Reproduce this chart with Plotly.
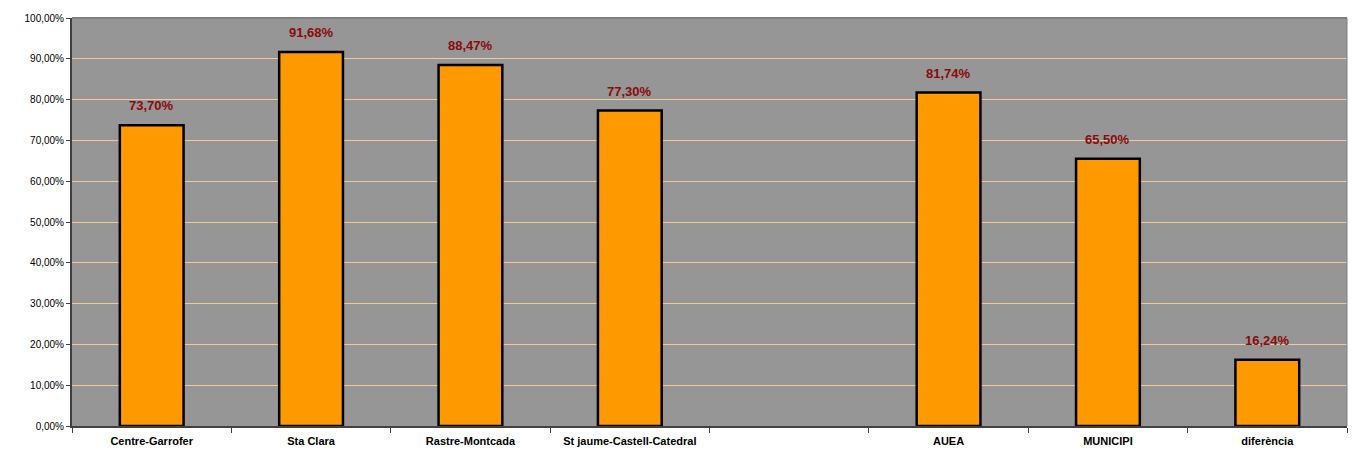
import plotly.graph_objects as go

# Percentages per zone (the blank slot separates zones from totals)
categories = ["Centre-Garrofer", "Sta Clara", "Rastre-Montcada", "St jaume-Castell-Catedral",
              " ", "AUEA", "MUNICIPI", "diferència"]
values = [0.7370, 0.9168, 0.8847, 0.7730, None, 0.8174, 0.6550, 0.1624]
y_ticks = [i / 10 for i in range(11)]


def pct(v):
    return f"{v * 100:.2f}".replace(".", ",") + "%"


fig = go.Figure()
fig.add_trace(go.Bar(
    x=categories,
    y=values,
    width=0.4,
    marker=dict(color="#FF9900", line=dict(color="#000000", width=2.5)),
    hoverinfo="skip",
))

# Value labels floating above each bar
for cat, v in zip(categories, values):
    if v is None:
        continue
    fig.add_annotation(
        x=cat, y=v, text=pct(v), showarrow=False,
        yanchor="bottom", yshift=10,
        font=dict(family="Arial, Liberation Sans", size=13, color="#8B0A0A", weight="bold"),
    )

fig.update_layout(
    width=1358, height=454,
    margin=dict(l=72, r=11, t=18, b=28),
    paper_bgcolor="#FFFFFF",
    plot_bgcolor="#969696",
    separators=",.",
    showlegend=False,
    font=dict(family="Arial, Liberation Sans", color="#000000"),
)

fig.update_xaxes(
    type="category",
    categoryorder="array", categoryarray=categories,
    tickson="boundaries",
    ticks="outside", ticklen=5, tickwidth=1, tickcolor="#404040",
    ticklabelstandoff=4,
    automargin=False,
    showline=True, linecolor="#404040", linewidth=2,
    showgrid=False,
    tickfont=dict(family="Arial, Liberation Sans", size=11, color="#000000", weight="bold"),
)

fig.update_yaxes(
    range=[0, 1],
    tickvals=y_ticks,
    tickformat=".2%",
    ticks="outside", ticklen=4, tickwidth=1, tickcolor="#404040",
    automargin=False,
    showline=True, linecolor="#404040", linewidth=2,
    showgrid=True, gridcolor="#F2C89E", gridwidth=1,
    zeroline=False,
    tickfont=dict(family="Arial, Liberation Sans", size=10, color="#000000"),
)

# Light frame on the top and right edges of the plot area
fig.add_shape(type="line", xref="paper", yref="paper", x0=0, x1=1, y0=1, y1=1,
              line=dict(color="#808080", width=2))
fig.add_shape(type="line", xref="paper", yref="paper", x0=1, x1=1, y0=0, y1=1,
              line=dict(color="#808080", width=1))

fig.write_html("out.html")
